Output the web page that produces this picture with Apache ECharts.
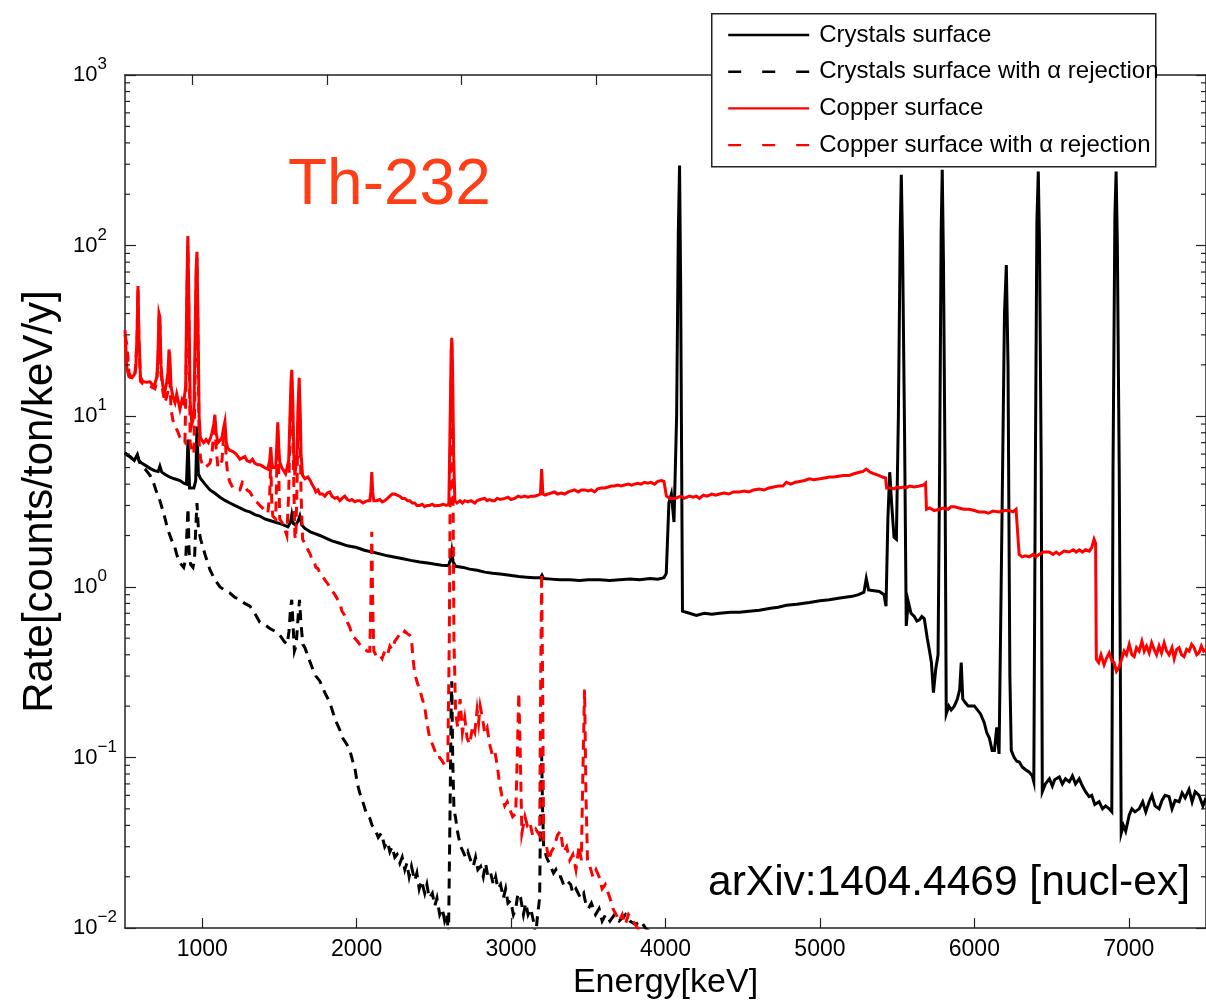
<!DOCTYPE html>
<html>
<head>
<meta charset="utf-8">
<title>Th-232 surface contamination spectra</title>
<script src="https://cdn.jsdelivr.net/npm/echarts@6.0.0/dist/echarts.min.js"></script>
<style>
  html, body { margin: 0; padding: 0; background: #fff; }
  #chart { width: 1206px; height: 1005px; }
</style>
</head>
<body>
<div id="chart"></div>
<script>
// Energy range and tick positions (keV)
const energyMin = 500;
const energyMax = 7500;
const energyTicks = [1000, 2000, 3000, 4000, 5000, 6000, 7000];
const topAxisMax = 8533;
const topAxisTicks = [1000, 2000, 3000, 4000, 5000, 6000, 7000, 8000];

// Rate range (counts/ton/keV/y), log scale
const rateMin = 0.01;
const rateMax = 1000;
const rateExponentLabels = { '-2': '\u22122', '-1': '\u22121', '0': '0', '1': '1', '2': '2', '3': '3' };
const rateMinorTicks = [
  0.02, 0.03, 0.04, 0.05, 0.06, 0.07, 0.08, 0.09,
  0.2, 0.3, 0.4, 0.5, 0.6, 0.7, 0.8, 0.9,
  2, 3, 4, 5, 6, 7, 8, 9,
  20, 30, 40, 50, 60, 70, 80, 90,
  200, 300, 400, 500, 600, 700, 800, 900
];

const seriesNames = [
  'Crystals surface',
  'Crystals surface with \u03b1 rejection',
  'Copper surface',
  'Copper surface with \u03b1 rejection'
];

// [energy keV, rate]
const crystalsSurface = [[500,6.1],[515,5.9],[532,5.8],[560,5.5],[572,5.6],[580,5.95],[590,5.5],[610,5.3],[640,5.1],[662,4.95],[690,4.8],[715,4.75],[726,5.1],[738,4.7],[760,4.55],[791,4.4],[820,4.3],[856,4.2],[880,4.05],[898,4.0],[908,7.3],[918,3.8],[930,3.7],[946,3.8],[958,4.2],[966,8.7],[975,4.6],[990,4.3],[1018,4.0],[1050,3.7],[1080,3.55],[1115,3.35],[1150,3.2],[1179,3.1],[1210,3.0],[1244,2.9],[1280,2.8],[1309,2.75],[1340,2.65],[1373,2.6],[1405,2.5],[1438,2.45],[1470,2.4],[1503,2.35],[1530,2.3],[1555,2.25],[1572,2.4],[1580,2.65],[1590,2.35],[1606,2.3],[1622,2.45],[1632,2.6],[1645,2.3],[1665,2.2],[1700,2.1],[1730,2.05],[1762,2.0],[1800,1.93],[1840,1.86],[1891,1.8],[1940,1.74],[2000,1.7],[2050,1.64],[2100,1.6],[2150,1.56],[2200,1.52],[2250,1.49],[2300,1.46],[2350,1.43],[2409,1.4],[2460,1.38],[2500,1.36],[2550,1.34],[2595,1.33],[2608,1.45],[2616,1.62],[2625,1.4],[2641,1.32],[2690,1.3],[2732,1.27],[2780,1.25],[2830,1.22],[2880,1.2],[2930,1.19],[2991,1.17],[3050,1.15],[3100,1.14],[3150,1.13],[3190,1.13],[3200,1.17],[3210,1.12],[3260,1.11],[3314,1.1],[3380,1.1],[3444,1.09],[3500,1.1],[3573,1.1],[3640,1.09],[3703,1.1],[3770,1.11],[3832,1.1],[3900,1.12],[3950,1.11],[3990,1.13],[4005,1.2],[4022,3.1],[4038,3.5],[4055,2.4],[4072,10],[4083,120],[4091,295],[4098,60],[4110,0.72],[4155,0.7],[4200,0.68],[4250,0.7],[4300,0.69],[4350,0.7],[4420,0.71],[4479,0.71],[4540,0.72],[4608,0.73],[4680,0.75],[4730,0.76],[4783,0.78],[4850,0.79],[4932,0.81],[5000,0.83],[5061,0.84],[5130,0.86],[5210,0.88],[5250,0.9],[5285,0.93],[5300,1.12],[5315,0.96],[5350,0.95],[5385,0.94],[5415,0.9],[5428,0.77],[5440,2.5],[5452,4.7],[5465,3.0],[5480,1.95],[5495,1.9],[5508,10],[5520,120],[5527,260],[5535,100],[5548,8],[5559,0.59],[5572,0.82],[5590,0.7],[5611,0.67],[5628,0.63],[5644,0.64],[5660,0.67],[5676,0.65],[5695,0.5],[5708,0.43],[5722,0.36],[5735,0.24],[5750,0.33],[5765,0.4],[5775,5],[5785,120],[5792,278],[5800,80],[5810,5],[5818,0.18],[5835,0.2],[5850,0.19],[5870,0.2],[5890,0.22],[5905,0.25],[5915,0.36],[5925,0.22],[5941,0.21],[5960,0.2],[5985,0.2],[6000,0.2],[6020,0.19],[6040,0.18],[6064,0.16],[6080,0.14],[6097,0.13],[6115,0.11],[6130,0.11],[6145,0.15],[6160,0.105],[6180,3],[6195,40],[6207,77],[6218,20],[6230,0.3],[6239,0.11],[6258,0.1],[6275,0.095],[6291,0.094],[6310,0.088],[6330,0.085],[6356,0.082],[6375,0.078],[6385,0.072],[6395,5],[6405,140],[6414,272],[6422,100],[6433,5],[6440,0.063],[6460,0.07],[6486,0.075],[6505,0.068],[6520,0.074],[6550,0.077],[6570,0.07],[6590,0.075],[6615,0.072],[6635,0.078],[6655,0.07],[6679,0.075],[6700,0.068],[6720,0.063],[6743,0.059],[6760,0.06],[6780,0.053],[6808,0.055],[6830,0.05],[6850,0.052],[6873,0.05],[6890,0.048],[6898,5],[6910,150],[6918,272],[6926,100],[6938,5],[6951,0.036],[6965,0.04],[6980,0.037],[7003,0.046],[7020,0.05],[7040,0.048],[7067,0.05],[7090,0.055],[7110,0.048],[7132,0.055],[7150,0.06],[7170,0.052],[7196,0.05],[7215,0.056],[7235,0.06],[7261,0.059],[7280,0.05],[7300,0.056],[7326,0.055],[7345,0.062],[7365,0.058],[7390,0.065],[7410,0.055],[7430,0.063],[7455,0.06],[7480,0.052],[7500,0.058]];

const crystalsAlphaRejection = [[500,6.1],[532,5.8],[560,5.5],[580,5.9],[600,5.2],[630,4.9],[662,4.5],[680,4.2],[700,3.7],[715,3.4],[726,3.2],[745,2.8],[760,2.5],[775,2.2],[791,2.0],[805,1.85],[820,1.74],[835,1.55],[850,1.4],[865,1.35],[880,1.3],[893,1.45],[900,2.0],[908,2.9],[915,1.6],[925,1.35],[940,1.3],[950,1.45],[958,2.2],[966,3.1],[975,2.2],[990,1.9],[1018,1.55],[1050,1.26],[1082,1.1],[1115,1.0],[1150,0.95],[1179,0.92],[1210,0.87],[1244,0.84],[1275,0.8],[1309,0.77],[1340,0.7],[1373,0.62],[1405,0.6],[1438,0.57],[1470,0.55],[1503,0.52],[1530,0.48],[1550,0.46],[1562,0.55],[1572,0.75],[1580,0.84],[1588,0.6],[1597,0.42],[1608,0.45],[1620,0.65],[1630,0.84],[1640,0.6],[1652,0.46],[1665,0.44],[1690,0.38],[1710,0.34],[1736,0.3],[1762,0.28],[1794,0.24],[1826,0.21],[1850,0.18],[1870,0.16],[1891,0.145],[1910,0.13],[1935,0.12],[1956,0.11],[1975,0.095],[1990,0.085],[2005,0.07],[2020,0.062],[2040,0.055],[2066,0.046],[2085,0.044],[2100,0.04],[2118,0.038],[2140,0.034],[2160,0.036],[2182,0.03],[2200,0.032],[2215,0.028],[2230,0.03],[2247,0.026],[2262,0.027],[2280,0.024],[2295,0.026],[2312,0.022],[2325,0.024],[2340,0.02],[2355,0.023],[2376,0.019],[2390,0.021],[2405,0.017],[2420,0.019],[2441,0.016],[2455,0.018],[2470,0.015],[2490,0.016],[2506,0.0135],[2520,0.015],[2538,0.012],[2555,0.013],[2570,0.011],[2585,0.012],[2595,0.009],[2605,0.05],[2612,0.2],[2616,0.28],[2622,0.1],[2630,0.05],[2641,0.044],[2655,0.036],[2674,0.03],[2690,0.028],[2705,0.026],[2720,0.028],[2738,0.025],[2755,0.023],[2770,0.026],[2785,0.022],[2803,0.023],[2820,0.02],[2835,0.024],[2850,0.02],[2868,0.021],[2885,0.018],[2900,0.02],[2915,0.017],[2932,0.018],[2950,0.015],[2965,0.017],[2980,0.014],[2997,0.0145],[3015,0.012],[3030,0.013],[3045,0.016],[3062,0.015],[3080,0.012],[3095,0.014],[3110,0.012],[3127,0.013],[3145,0.011],[3159,0.009],[3172,0.012],[3185,0.015],[3192,0.06],[3198,0.105],[3204,0.05],[3211,0.03],[3230,0.026],[3256,0.023],[3275,0.021],[3290,0.022],[3305,0.02],[3321,0.02],[3340,0.018],[3360,0.019],[3386,0.018],[3400,0.016],[3420,0.017],[3450,0.015],[3470,0.016],[3483,0.014],[3500,0.013],[3520,0.014],[3547,0.012],[3570,0.013],[3590,0.011],[3612,0.012],[3640,0.011],[3670,0.012],[3700,0.011],[3741,0.012],[3770,0.011],[3806,0.0105],[3840,0.011],[3870,0.01],[3900,0.0095],[3935,0.009]];

const copperSurface = [[500,32],[506,25],[513,19],[526,17],[545,16.8],[560,17.5],[570,19],[578,30],[584,58],[590,30],[600,17],[615,16],[640,15.8],[662,15.9],[680,15.2],[694,15.5],[706,17],[713,22],[720,40],[726,38],[733,20],[745,15],[759,14],[770,16],[778,18],[785,24.6],[791,22],[798,15],[810,13],[824,12],[835,13.5],[843,12.5],[856,11],[870,12.5],[880,12],[893,15],[901,60],[907,114],[914,45],[922,12],[933,9],[946,10],[953,25],[960,70],[966,92],[972,40],[980,10],[988,7.5],[1000,7.2],[1010,7.0],[1025,7.3],[1040,7.0],[1055,7.5],[1063,8],[1075,9],[1082,10.2],[1090,8],[1102,7],[1115,7.2],[1128,7.5],[1138,8.5],[1147,9.3],[1156,7],[1166,6.5],[1180,6.3],[1199,6.2],[1220,6.0],[1244,5.6],[1260,5.7],[1276,5.8],[1290,5.5],[1309,5.4],[1325,5.6],[1341,5.3],[1360,5.2],[1373,5.2],[1390,5.1],[1405,5.0],[1425,4.9],[1437,5.5],[1444,6.6],[1450,5.4],[1457,5.0],[1468,5.1],[1476,5.0],[1482,6.5],[1489,9.2],[1496,6.5],[1502,5.4],[1515,5.0],[1528,4.8],[1540,4.6],[1548,4.5],[1560,5.5],[1567,9],[1575,16],[1580,18.7],[1587,12],[1593,6],[1600,4.5],[1606,4.4],[1614,6],[1620,11],[1628,16.8],[1634,11],[1640,6],[1650,4.5],[1665,4.3],[1684,4.4],[1700,4.2],[1710,4.0],[1725,3.8],[1736,3.6],[1750,3.7],[1762,3.5],[1780,3.5],[1794,3.4],[1810,3.55],[1826,3.6],[1840,3.4],[1859,3.3],[1875,3.35],[1891,3.2],[1905,3.3],[1923,3.4],[1940,3.25],[1956,3.2],[1970,3.25],[1988,3.15],[2005,3.2],[2020,3.2],[2040,3.1],[2053,3.15],[2070,3.2],[2085,3.2],[2092,3.6],[2098,4.7],[2104,3.6],[2111,3.2],[2130,3.2],[2150,3.25],[2165,3.15],[2182,3.2],[2200,3.3],[2215,3.4],[2230,3.5],[2247,3.5],[2262,3.45],[2279,3.4],[2295,3.3],[2312,3.3],[2330,3.2],[2344,3.2],[2360,3.1],[2376,3.1],[2390,3.0],[2409,3.0],[2425,3.05],[2440,2.95],[2455,3.0],[2473,3.0],[2490,3.05],[2505,2.98],[2520,3.0],[2538,3.0],[2560,3.05],[2580,3.0],[2597,3.05],[2606,10],[2612,24],[2616,28.8],[2621,20],[2628,6],[2636,3.2],[2650,3.1],[2670,3.2],[2685,3.1],[2700,3.2],[2720,3.15],[2740,3.2],[2765,3.1],[2780,3.2],[2800,3.25],[2829,3.3],[2845,3.2],[2860,3.25],[2880,3.2],[2894,3.2],[2910,3.3],[2930,3.25],[2959,3.3],[2980,3.35],[3000,3.25],[3023,3.3],[3045,3.4],[3065,3.35],[3088,3.4],[3110,3.35],[3130,3.4],[3153,3.4],[3175,3.45],[3190,3.5],[3198,4.9],[3206,3.5],[3220,3.45],[3240,3.5],[3260,3.55],[3282,3.6],[3300,3.5],[3325,3.55],[3347,3.5],[3370,3.6],[3390,3.65],[3411,3.7],[3435,3.6],[3455,3.7],[3476,3.7],[3500,3.65],[3520,3.7],[3541,3.6],[3560,3.75],[3585,3.8],[3606,3.8],[3630,3.85],[3650,3.9],[3670,3.9],[3690,3.95],[3712,3.9],[3735,3.95],[3760,4.0],[3780,3.95],[3800,4.0],[3820,4.05],[3842,4.0],[3864,4.1],[3885,4.05],[3905,4.1],[3929,4.0],[3950,4.15],[3974,4.2],[3990,4.15],[4000,4.1],[4006,3.4],[4013,3.35],[4030,3.3],[4058,3.3],[4080,3.35],[4100,3.4],[4120,3.3],[4155,3.4],[4180,3.35],[4200,3.4],[4220,3.3],[4245,3.45],[4270,3.4],[4300,3.5],[4325,3.45],[4350,3.5],[4380,3.55],[4410,3.5],[4440,3.6],[4479,3.6],[4510,3.65],[4540,3.6],[4570,3.7],[4608,3.75],[4640,3.7],[4670,3.8],[4700,3.85],[4730,3.9],[4760,3.9],[4783,4.1],[4810,4.0],[4840,4.1],[4870,4.15],[4900,4.2],[4932,4.3],[4960,4.25],[5000,4.3],[5030,4.35],[5061,4.4],[5090,4.4],[5120,4.45],[5150,4.5],[5190,4.5],[5220,4.6],[5255,4.7],[5280,4.75],[5300,4.9],[5307,5.0],[5325,4.7],[5352,4.6],[5380,4.5],[5404,4.4],[5425,4.35],[5432,3.8],[5460,3.8],[5480,3.75],[5500,3.85],[5514,3.8],[5540,3.85],[5560,3.8],[5579,3.9],[5610,3.85],[5644,3.9],[5670,3.95],[5684,4.05],[5690,2.85],[5710,2.9],[5740,2.8],[5773,2.85],[5800,2.9],[5830,2.85],[5850,2.95],[5870,2.95],[5900,2.9],[5930,2.85],[5967,2.85],[6000,2.8],[6030,2.75],[6064,2.75],[6090,2.7],[6120,2.78],[6161,2.75],[6190,2.8],[6226,2.8],[6250,2.75],[6270,2.85],[6282,2.8],[6290,1.55],[6310,1.5],[6330,1.52],[6356,1.5],[6380,1.55],[6400,1.5],[6420,1.55],[6450,1.6],[6485,1.6],[6510,1.55],[6530,1.6],[6550,1.55],[6580,1.62],[6615,1.6],[6640,1.65],[6660,1.6],[6679,1.65],[6700,1.6],[6720,1.65],[6744,1.62],[6760,1.7],[6775,1.9],[6785,1.8],[6790,0.376],[6805,0.36],[6820,0.4],[6840,0.35],[6855,0.38],[6873,0.41],[6890,0.37],[6905,0.36],[6920,0.32],[6938,0.34],[6955,0.38],[6970,0.42],[6985,0.4],[7003,0.46],[7020,0.4],[7035,0.39],[7050,0.44],[7067,0.42],[7085,0.48],[7100,0.42],[7115,0.45],[7132,0.41],[7148,0.47],[7164,0.43],[7180,0.4],[7196,0.45],[7212,0.41],[7229,0.47],[7245,0.42],[7261,0.4],[7280,0.44],[7294,0.38],[7310,0.43],[7326,0.44],[7342,0.4],[7358,0.39],[7375,0.43],[7391,0.42],[7407,0.46],[7423,0.44],[7440,0.4],[7455,0.41],[7470,0.45],[7485,0.42],[7500,0.43]];

const copperAlphaRejection = [[500,30],[513,26],[526,18],[545,16.5],[565,17.5],[578,28],[584,55],[590,28],[600,16],[615,15.5],[640,15.2],[662,15],[694,14.5],[706,16],[713,20],[720,35],[726,34],[733,18],[745,14],[759,12],[770,13],[778,14],[785,18],[791,16],[798,11],[810,9.5],[824,8.7],[840,8.2],[856,7.5],[870,7.2],[888,7],[895,15],[901,45],[907,100],[914,35],[922,7],[933,6.2],[946,6],[953,15],[960,55],[966,85],[972,30],[980,7],[990,5.6],[1005,5.1],[1020,5.0],[1031,5.0],[1050,5.3],[1063,6],[1075,8],[1082,9.5],[1090,6.5],[1102,5.0],[1115,5.2],[1128,5.5],[1138,7.5],[1147,8.5],[1156,5.5],[1166,4.5],[1180,4.1],[1199,3.8],[1220,3.7],[1244,3.7],[1260,4.1],[1276,4.0],[1290,3.7],[1309,3.6],[1325,3.4],[1341,3.2],[1360,3.1],[1373,3.0],[1390,2.9],[1405,2.8],[1425,2.7],[1437,3.5],[1444,5.5],[1450,3.2],[1457,2.6],[1468,2.6],[1476,2.5],[1482,4.5],[1489,8.5],[1496,4.5],[1502,2.5],[1515,2.4],[1528,2.3],[1540,2.1],[1548,2.0],[1560,3.5],[1567,7],[1575,14],[1580,16],[1587,9],[1593,4],[1600,2.0],[1606,1.9],[1614,4],[1620,9],[1628,14.5],[1634,8],[1640,3.5],[1650,1.9],[1665,1.8],[1684,1.65],[1700,1.55],[1710,1.45],[1725,1.4],[1736,1.3],[1750,1.28],[1762,1.2],[1780,1.15],[1794,1.1],[1810,1.05],[1826,1.0],[1840,0.95],[1859,0.9],[1875,0.85],[1891,0.8],[1905,0.72],[1923,0.68],[1940,0.62],[1956,0.58],[1970,0.52],[1988,0.5],[2005,0.48],[2020,0.46],[2040,0.44],[2053,0.43],[2070,0.42],[2085,0.42],[2092,0.8],[2098,2.1],[2104,0.8],[2111,0.42],[2130,0.39],[2150,0.4],[2165,0.38],[2182,0.42],[2200,0.4],[2215,0.45],[2230,0.43],[2247,0.48],[2262,0.5],[2279,0.53],[2295,0.52],[2312,0.55],[2330,0.53],[2344,0.52],[2355,0.5],[2365,0.38],[2376,0.31],[2395,0.27],[2409,0.25],[2425,0.22],[2440,0.2],[2455,0.16],[2473,0.13],[2490,0.12],[2506,0.11],[2520,0.1],[2538,0.1],[2555,0.095],[2570,0.09],[2590,0.09],[2600,0.5],[2608,8],[2616,28],[2622,8],[2630,0.5],[2641,0.18],[2655,0.15],[2670,0.22],[2685,0.14],[2700,0.17],[2715,0.13],[2732,0.12],[2750,0.15],[2765,0.14],[2780,0.19],[2790,0.16],[2800,0.2],[2815,0.17],[2829,0.14],[2845,0.15],[2861,0.12],[2877,0.105],[2894,0.11],[2910,0.09],[2926,0.07],[2940,0.06],[2959,0.052],[2975,0.055],[2991,0.05],[3010,0.045],[3030,0.047],[3040,0.1],[3050,0.24],[3060,0.1],[3070,0.036],[3090,0.045],[3105,0.04],[3120,0.042],[3140,0.035],[3160,0.038],[3185,0.035],[3192,0.3],[3198,1.2],[3204,0.3],[3211,0.032],[3230,0.03],[3245,0.025],[3260,0.028],[3280,0.03],[3300,0.035],[3320,0.037],[3340,0.028],[3360,0.03],[3380,0.025],[3400,0.027],[3420,0.022],[3440,0.03],[3455,0.025],[3465,0.08],[3476,0.25],[3485,0.06],[3495,0.025],[3510,0.023],[3530,0.02],[3550,0.022],[3570,0.02],[3590,0.017],[3610,0.018],[3640,0.015],[3660,0.013],[3680,0.012],[3700,0.011],[3720,0.012],[3740,0.0105],[3760,0.012],[3790,0.011],[3820,0.01],[3860,0.0095],[3900,0.009]];

const FONT = '"Liberation Sans", Arial, Helvetica, sans-serif';
const AXIS_COLOR = '#222';

const chart = echarts.init(document.getElementById('chart'), null, { renderer: 'canvas' });

function lineSeries(name, data, color, dashed) {
  return {
    name: name,
    type: 'line',
    data: data,
    xAxisIndex: 0,
    yAxisIndex: 0,
    symbol: 'none',
    showSymbol: false,
    clip: true,
    z: dashed ? 3 : 2,
    lineStyle: { color: color, width: 3, type: dashed ? [10, 7] : 'solid', cap: 'butt', join: 'miter' },
    itemStyle: { color: color },
    emphasis: { disabled: true },
    animation: false
  };
}

const option = {
  backgroundColor: '#fff',
  animation: false,
  grid: { left: 125, top: 75, width: 1082, height: 854, containLabel: false },
  xAxis: [
    {
      type: 'value',
      position: 'bottom',
      min: energyMin,
      max: energyMax,
      name: 'Energy[keV]',
      nameLocation: 'middle',
      nameGap: 36,
      nameTextStyle: { fontFamily: FONT, fontSize: 34, color: '#000' },
      axisLine: { show: true, lineStyle: { color: AXIS_COLOR, width: 1.5 } },
      axisTick: { show: true, inside: true, length: 10, customValues: energyTicks, lineStyle: { color: AXIS_COLOR, width: 1.2 } },
      axisLabel: {
        show: true, customValues: energyTicks, margin: 10,
        fontFamily: FONT, fontSize: 23, color: '#000',
        formatter: function (v) { return String(v); }
      },
      splitLine: { show: false }
    },
    {
      type: 'value',
      position: 'top',
      min: energyMin,
      max: topAxisMax,
      axisLine: { show: true, lineStyle: { color: AXIS_COLOR, width: 1.5 } },
      axisTick: { show: true, inside: true, length: 10, customValues: topAxisTicks, lineStyle: { color: AXIS_COLOR, width: 1.2 } },
      axisLabel: { show: false },
      splitLine: { show: false }
    }
  ],
  yAxis: [
    {
      type: 'log',
      logBase: 10,
      position: 'left',
      min: rateMin,
      max: rateMax,
      interval: 1,
      name: 'Rate[counts/ton/keV/y]',
      nameLocation: 'middle',
      nameRotate: 90,
      nameGap: 64,
      nameTextStyle: { fontFamily: FONT, fontSize: 42, color: '#000' },
      axisLine: { show: true, lineStyle: { color: AXIS_COLOR, width: 1.5 } },
      axisTick: { show: true, inside: true, length: 11, lineStyle: { color: AXIS_COLOR, width: 1.2 } },
      axisLabel: {
        show: true,
        align: 'left',
        margin: 52,
        formatter: function (v) {
          const e = Math.round(Math.log10(v));
          return '{b|10}{e|' + rateExponentLabels[String(e)] + '}';
        },
        rich: {
          b: { fontFamily: FONT, fontSize: 22, color: '#000', lineHeight: 38 },
          e: { fontFamily: FONT, fontSize: 17, color: '#000', lineHeight: 17, verticalAlign: 'top' }
        }
      },
      splitLine: { show: false }
    },
    {
      type: 'log',
      logBase: 10,
      position: 'right',
      min: rateMin,
      max: rateMax,
      interval: 1,
      axisLine: { show: true, lineStyle: { color: AXIS_COLOR, width: 1.5 } },
      axisTick: { show: true, inside: true, length: 10, lineStyle: { color: AXIS_COLOR, width: 1.2 } },
      axisLabel: { show: false },
      splitLine: { show: false }
    }
  ],
  legend: {
    orient: 'vertical',
    left: 711,
    top: 13,
    padding: [10, 10, 10, 16],
    itemWidth: 81,
    itemHeight: 14,
    itemGap: 12.7,
    z: 20,
    selectedMode: false,
    backgroundColor: 'transparent',
    borderWidth: 0,
    itemStyle: { color: 'transparent', borderColor: 'transparent', borderWidth: 0, opacity: 0 },
    textStyle: { fontFamily: FONT, fontSize: 24, color: '#000', lineHeight: 24, padding: [0, 0, 0, 5] },
    data: [
      { name: seriesNames[0], lineStyle: { width: 2.4, type: 'solid' } },
      { name: seriesNames[1], lineStyle: { width: 2.4, type: [13, 21] } },
      { name: seriesNames[2], lineStyle: { width: 2.4, type: 'solid' } },
      { name: seriesNames[3], lineStyle: { width: 2.4, type: [13, 21] } }
    ]
  },
  graphic: [
    {
      type: 'rect',
      left: 711,
      top: 13,
      z: 10,
      shape: { width: 444, height: 153 },
      style: { fill: '#fff', stroke: '#222', lineWidth: 1.5 }
    },
    {
      type: 'text',
      x: 288,
      y: 186,
      z: 10,
      style: { text: 'Th-232', font: '64px ' + FONT, fill: '#ff3d17', align: 'left', verticalAlign: 'middle' }
    },
    {
      type: 'text',
      x: 708,
      y: 883,
      z: 10,
      style: { text: 'arXiv:1404.4469 [nucl-ex]', font: '42.5px ' + FONT, fill: '#000', align: 'left', verticalAlign: 'middle' }
    }
  ],
  series: [
    lineSeries(seriesNames[0], crystalsSurface, '#000000', false),
    lineSeries(seriesNames[1], crystalsAlphaRejection, '#000000', true),
    lineSeries(seriesNames[2], copperSurface, '#ff0000', false),
    lineSeries(seriesNames[3], copperAlphaRejection, '#ff0000', true),
    {
      // minor log ticks on the left and right frame edges
      name: 'minorTicks',
      type: 'custom',
      xAxisIndex: 0,
      yAxisIndex: 0,
      silent: true,
      z: 5,
      data: rateMinorTicks.map(function (v) { return [energyMin, v]; }),
      renderItem: function (params, api) {
        const y = api.coord([energyMin, api.value(1)])[1];
        const cs = params.coordSys;
        const st = { stroke: AXIS_COLOR, lineWidth: 1.2 };
        return {
          type: 'group',
          children: [
            { type: 'line', shape: { x1: cs.x, y1: y, x2: cs.x + 5, y2: y }, style: st },
            { type: 'line', shape: { x1: cs.x + cs.width, y1: y, x2: cs.x + cs.width - 5, y2: y }, style: st }
          ]
        };
      }
    }
  ]
};

chart.setOption(option);
</script>
</body>
</html>
